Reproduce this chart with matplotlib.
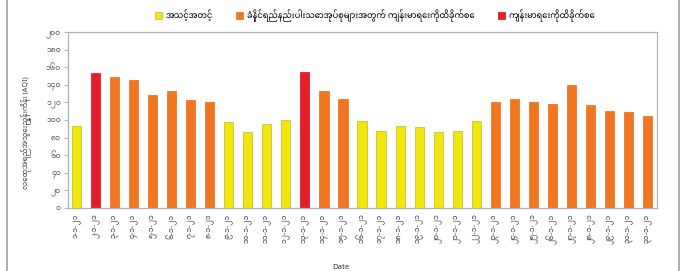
import matplotlib
matplotlib.use('Agg')
import matplotlib.pyplot as plt
from matplotlib.patches import Patch
from matplotlib.lines import Line2D

plt.rcParams['font.family'] = ['Noto Sans Myanmar', 'Padauk', 'Myanmar Text', 'DejaVu Sans']

# data
dates = ['၁-၁-၂၁', '၂-၁-၂၁', '၃-၁-၂၁', '၄-၁-၂၁', '၅-၁-၂၁', '၆-၁-၂၁', '၇-၁-၂၁',
         '၈-၁-၂၁', '၉-၁-၂၁', '၁၀-၁-၂၁', '၁၁-၁-၂၁', '၁၂-၁-၂၁', '၁၃-၁-၂၁', '၁၄-၁-၂၁',
         '၁၅-၁-၂၁', '၁၆-၁-၂၁', '၁၇-၁-၂၁', '၁၈-၁-၂၁', '၁၉-၁-၂၁', '၂၀-၁-၂၁', '၂၁-၁-၂၁',
         '၂၂-၁-၂၁', '၂၃-၁-၂၁', '၂၄-၁-၂၁', '၂၅-၁-၂၁', '၂၆-၁-၂၁', '၂၇-၁-၂၁', '၂၈-၁-၂၁',
         '၂၉-၁-၂၁', '၃၀-၁-၂၁', '၃၁-၁-၂၁']
aqi = [93, 153, 149, 145, 128, 133, 123, 121, 98, 86, 96, 100, 154, 133, 124, 99,
       87, 93, 92, 86, 87, 99, 121, 124, 121, 118, 140, 117, 110, 109, 104]
level = [0, 2, 1, 1, 1, 1, 1, 1, 0, 0, 0, 0, 2, 1, 1, 0,
         0, 0, 0, 0, 0, 0, 1, 1, 1, 1, 1, 1, 1, 1, 1]
level_names = ['အသင့်အတင့်',
               'ခံနိုင်ရည်နည်းပါးသောအုပ်စုများအတွက် ကျန်းမာရေးကိုထိခိုက်စေ',
               'ကျန်းမာရေးကိုထိခိုက်စေ']
yticks = [0, 20, 40, 60, 80, 100, 120, 140, 160, 180, 200]
ytick_labels = ['၀', '၂၀', '၄၀', '၆၀', '၈၀', '၁၀၀', '၁၂၀', '၁၄၀', '၁၆၀', '၁၈၀', '၂၀၀']

level_colors = ['#f3e60c', '#f07622', '#e61e2b']
edge_colors = ['#c9c040', '#f07622', '#e61e2b']

W, H = 688, 271
fig = plt.figure(figsize=(W / 100, H / 100), dpi=100)
ax = fig.add_axes([68 / W, 1 - 208 / H, (657 - 68) / W, (208 - 32) / H])

x = range(len(aqi))
ax.bar(x, aqi, width=0.48,
       color=[level_colors[l] for l in level],
       edgecolor=[edge_colors[l] for l in level], linewidth=0.6)

ax.set_xlim(-0.45, len(aqi) - 0.5)
ax.set_ylim(0, 200)
ax.set_yticks(yticks)
ax.set_yticklabels(ytick_labels, fontsize=5.5, color='#555555')
ax.set_xticks(list(x))
ax.set_xticklabels(dates, rotation=90, fontsize=5.5, color='#444444')
ax.tick_params(axis='y', length=3, color='#b0b8bf', pad=2)
ax.tick_params(axis='x', length=0, pad=4)
for s in ax.spines.values():
    s.set_color('#a9b4bc')
    s.set_linewidth(0.9)

ax.set_ylabel('လေထုအရည်အသွေးညွှန်းကိန်း (AQI)', fontsize=5.2, color='#444444')
ax.yaxis.set_label_coords(-0.062, 0.43)
ax.set_xlabel('Date', fontsize=5.5, fontweight='bold', color='#333333')
ax.xaxis.set_label_coords(0.464, -0.32)

handles = [Patch(facecolor=level_colors[i], edgecolor=edge_colors[i], linewidth=0.6)
           for i in range(3)]
fig.legend(handles, level_names, loc='center', bbox_to_anchor=(0.545, 1 - 16 / H),
           ncol=3, frameon=False, fontsize=6, handlelength=0.9, handleheight=0.9,
           handletextpad=0.4, columnspacing=2.8)

# outer frame lines
fig.add_artist(Line2D([7 / W, 7 / W], [0, 1], color='#9aa0a6', linewidth=1.2))
fig.add_artist(Line2D([679 / W, 679 / W], [0, 1], color='#9aa0a6', linewidth=1.2))

fig.savefig('out.png', dpi=100)
